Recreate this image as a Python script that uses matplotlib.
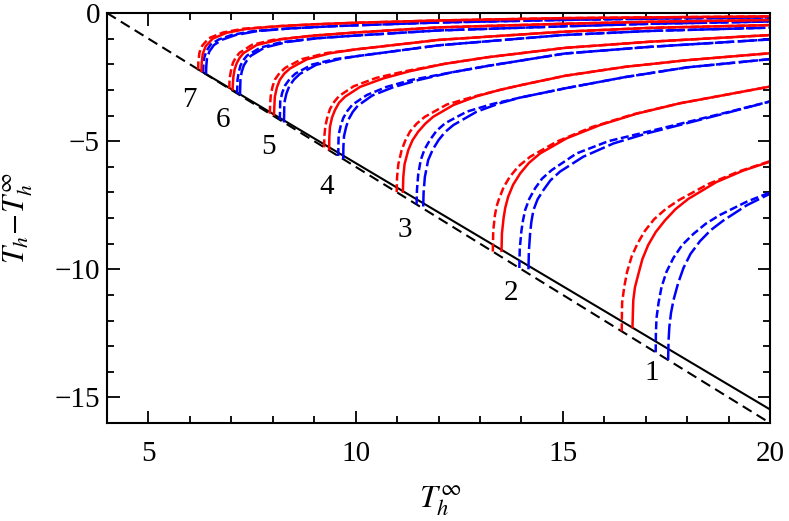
import matplotlib as mpl
mpl.use("Agg")
import matplotlib.pyplot as plt
from matplotlib.ticker import MultipleLocator

plt.rcParams['font.family'] = 'serif'
plt.rcParams['font.serif'] = ['Liberation Serif', 'DejaVu Serif']
plt.rcParams['mathtext.fontset'] = 'stix'

# black reference lines (x, y)
line_dashed = [(4.0, 0.0), (20.0, -16.0)]
line_solid = [(6.2, -2.2), (20.0, -15.47)]

# curves: red solid, red dashed, blue short dash, blue long dash
g1_red = [(16.68, -12.26), (16.69, -11.7), (16.70, -11.2), (16.74, -10.7), (16.82, -10.2), (16.92, -9.6),
          (17.06, -9.05), (17.24, -8.55), (17.46, -8.1), (17.72, -7.65), (18.03, -7.25), (18.7, -6.6),
          (19.35, -6.15), (20, -5.8)]
g1_red_d = [(16.42, -12.42), (16.425, -11.8), (16.43, -11.3), (16.48, -10.7), (16.55, -10.1), (16.66, -9.5),
            (16.8, -9.0), (16.98, -8.5), (17.2, -8.05), (17.48, -7.65), (17.8, -7.3), (18.5, -6.68),
            (19.25, -6.18), (20, -5.78)]
g1_blue_s = [(17.24, -13.24), (17.245, -12.5), (17.26, -11.9), (17.31, -11.3), (17.38, -10.7), (17.5, -10.1),
             (17.67, -9.55), (17.88, -9.05), (18.15, -8.62), (18.45, -8.22), (18.79, -7.88), (19.44, -7.36),
             (20, -7.0)]
g1_blue_l = [(17.54, -13.54), (17.55, -12.8), (17.57, -12.24), (17.61, -11.7), (17.67, -11.2), (17.78, -10.55),
             (17.91, -9.95), (18.08, -9.4), (18.31, -8.9), (18.57, -8.47), (18.87, -8.1), (19.44, -7.5),
             (20, -7.05)]

g2_red = [(13.52, -9.28), (13.53, -8.6), (13.57, -8.0), (13.61, -7.6), (13.68, -7.17), (13.8, -6.7),
          (13.97, -6.26), (14.18, -5.85), (14.45, -5.48), (15.09, -4.89), (15.9, -4.37), (16.78, -3.93),
          (17.83, -3.52), (19.0, -3.17), (20, -2.87)]
g2_red_d = [(13.31, -9.31), (13.32, -8.5), (13.36, -7.9), (13.4, -7.55), (13.46, -7.25), (13.57, -6.8),
            (13.72, -6.39), (13.93, -5.98), (14.21, -5.61), (14.85, -5.02), (15.7, -4.45), (16.7, -3.95),
            (17.83, -3.52), (19.0, -3.17), (20, -2.87)]
g2_blue_s = [(13.95, -9.95), (13.96, -9.2), (14.0, -8.5), (14.04, -8.08), (14.09, -7.69), (14.19, -7.25),
             (14.33, -6.84), (14.5, -6.46), (14.73, -6.13), (15.33, -5.48), (16.1, -5.0), (17.02, -4.64),
             (17.99, -4.26), (18.95, -3.88), (20, -3.45)]
g2_blue_l = [(14.17, -10.0), (14.18, -9.3), (14.21, -8.6), (14.24, -8.15), (14.29, -7.69), (14.39, -7.27),
             (14.53, -6.91), (14.7, -6.53), (14.93, -6.19), (15.49, -5.61), (16.22, -5.09), (17.02, -4.7),
             (17.99, -4.3), (18.95, -3.9), (20, -3.45)]

g3_red = [(11.14, -6.97), (11.15, -6.4), (11.18, -5.9), (11.27, -5.35), (11.37, -4.97), (11.51, -4.63),
          (11.68, -4.32), (11.87, -4.05), (12.36, -3.59), (12.92, -3.25), (13.48, -3.0), (13.97, -2.82),
          (15.05, -2.45), (16.5, -2.1), (18, -1.84), (20, -1.57)]
g3_red_d = [(10.99, -6.99), (11.0, -6.4), (11.03, -5.9), (11.11, -5.35), (11.2, -4.97), (11.31, -4.63),
            (11.47, -4.32), (11.67, -4.05), (12.2, -3.57), (12.85, -3.26), (13.48, -3.0), (13.97, -2.82),
            (15.05, -2.45), (16.5, -2.1), (18, -1.84), (20, -1.57)]
g3_blue_s = [(11.47, -7.47), (11.48, -6.9), (11.51, -6.3), (11.57, -5.74), (11.66, -5.33), (11.79, -4.96),
             (11.95, -4.6), (12.16, -4.3), (12.68, -3.85), (13.3, -3.55), (13.97, -3.3), (15.05, -2.94),
             (16.5, -2.5), (18, -2.12), (20, -1.8)]
g3_blue_l = [(11.63, -7.55), (11.64, -7.0), (11.67, -6.4), (11.75, -5.74), (11.86, -5.33), (12.0, -4.96),
             (12.16, -4.64), (12.36, -4.37), (12.92, -3.85), (13.48, -3.52), (13.97, -3.3), (15.05, -2.94),
             (16.5, -2.5), (18, -2.12), (20, -1.8)]

g4_red = [(9.36, -5.32), (9.365, -4.85), (9.38, -4.44), (9.43, -4.08), (9.5, -3.79), (9.6, -3.5),
          (9.74, -3.27), (10.11, -2.88), (10.67, -2.55), (11.31, -2.27), (12.12, -1.99), (13.16, -1.73),
          (15.05, -1.36), (17.1, -1.12), (20, -0.86)]
g4_red_d = [(9.24, -5.24), (9.245, -4.8), (9.27, -4.4), (9.32, -4.05), (9.38, -3.75), (9.48, -3.47),
            (9.6, -3.24), (9.95, -2.86), (10.5, -2.53), (11.2, -2.27), (12.12, -1.99), (13.16, -1.73),
            (15.05, -1.36), (17.1, -1.12), (20, -0.86)]
g4_blue_s = [(9.58, -5.58), (9.585, -5.1), (9.59, -4.75), (9.64, -4.4), (9.7, -4.1), (9.8, -3.82),
             (9.92, -3.58), (10.27, -3.2), (10.75, -2.88), (11.35, -2.61), (12.3, -2.32), (13.2, -2.06),
             (15.05, -1.58), (17.1, -1.32), (20, -1.03)]
g4_blue_l = [(9.70, -5.70), (9.705, -5.2), (9.72, -4.8), (9.77, -4.45), (9.83, -4.15), (9.93, -3.86),
             (10.05, -3.62), (10.4, -3.22), (10.9, -2.9), (11.5, -2.62), (12.3, -2.32), (13.2, -2.06),
             (15.05, -1.58), (17.1, -1.32), (20, -1.03)]

g5_red = [(8.03, -3.96), (8.04, -3.6), (8.05, -3.27), (8.1, -2.9), (8.17, -2.61), (8.28, -2.36),
          (8.42, -2.16), (8.82, -1.81), (9.38, -1.57), (10, -1.42), (12, -1.05), (15, -0.73),
          (17.1, -0.58), (20, -0.47)]
g5_red_d = [(7.93, -3.93), (7.935, -3.6), (7.95, -3.25), (7.99, -2.9), (8.05, -2.6), (8.16, -2.35),
            (8.3, -2.14), (8.7, -1.8), (9.3, -1.56), (10, -1.42), (12, -1.05), (15, -0.73),
            (17.1, -0.58), (20, -0.47)]
g5_blue_s = [(8.17, -4.17), (8.175, -3.8), (8.18, -3.45), (8.23, -3.1), (8.3, -2.82), (8.41, -2.57),
             (8.55, -2.36), (8.95, -2.01), (9.5, -1.8), (10, -1.69), (12, -1.26), (15, -0.86),
             (17.1, -0.70), (20, -0.57)]
g5_blue_l = [(8.27, -4.27), (8.275, -3.9), (8.28, -3.5), (8.33, -3.14), (8.4, -2.85), (8.51, -2.6),
             (8.65, -2.38), (9.05, -2.02), (9.6, -1.8), (10, -1.69), (12, -1.26), (15, -0.86),
             (17.1, -0.70), (20, -0.57)]

g6_red = [(7.03, -2.98), (7.04, -2.7), (7.05, -2.49), (7.08, -2.2), (7.13, -1.96), (7.2, -1.75),
          (7.29, -1.57), (7.61, -1.25), (8.17, -1.03), (8.98, -0.88), (10, -0.76), (12, -0.56),
          (15, -0.42), (17.1, -0.34), (20, -0.27)]
g6_red_d = [(6.95, -2.95), (6.955, -2.7), (6.97, -2.45), (7.0, -2.18), (7.04, -1.94), (7.11, -1.73),
            (7.2, -1.55), (7.5, -1.24), (8.0, -1.05), (8.98, -0.88), (10, -0.76), (12, -0.56),
            (15, -0.42), (17.1, -0.34), (20, -0.27)]
g6_blue_s = [(7.14, -3.14), (7.145, -2.85), (7.15, -2.6), (7.18, -2.3), (7.22, -2.05), (7.29, -1.84),
             (7.38, -1.66), (7.7, -1.35), (8.2, -1.14), (9.0, -0.99), (10, -0.88), (12, -0.68),
             (15, -0.52), (17.1, -0.42), (20, -0.33)]
g6_blue_l = [(7.21, -3.21), (7.215, -2.9), (7.22, -2.6), (7.25, -2.3), (7.3, -2.05), (7.38, -1.84),
             (7.47, -1.67), (7.8, -1.35), (8.35, -1.13), (9.1, -0.98), (10, -0.88), (12, -0.68),
             (15, -0.52), (17.1, -0.42), (20, -0.33)]

g7_red = [(6.28, -2.26), (6.285, -1.95), (6.31, -1.6), (6.38, -1.3), (6.55, -1.0), (6.89, -0.77),
          (7.37, -0.62), (8.17, -0.51), (9.0, -0.44), (10, -0.38), (12, -0.29), (15, -0.2), (17.1, -0.17), (20, -0.13)]
g7_red_d = [(6.20, -2.2), (6.205, -1.9), (6.23, -1.55), (6.3, -1.27), (6.46, -0.98), (6.8, -0.76),
            (7.3, -0.61), (8.17, -0.51), (9.0, -0.44), (10, -0.38), (12, -0.29), (15, -0.2), (17.1, -0.17), (20, -0.13)]
g7_blue_s = [(6.32, -2.32), (6.325, -2.05), (6.34, -1.78), (6.4, -1.48), (6.5, -1.23), (6.7, -1.03),
             (7.02, -0.85), (7.55, -0.7), (8.42, -0.6), (9.38, -0.52), (10, -0.48), (12, -0.37), (15, -0.27),
             (17.1, -0.22), (20, -0.17)]
g7_blue_l = [(6.39, -2.39), (6.395, -2.1), (6.41, -1.8), (6.47, -1.5), (6.58, -1.25), (6.78, -1.04),
             (7.1, -0.86), (7.61, -0.71), (8.42, -0.6), (9.38, -0.52), (10, -0.48), (12, -0.37), (15, -0.27),
             (17.1, -0.22), (20, -0.17)]

groups = [
    (g1_red, g1_red_d, g1_blue_s, g1_blue_l),
    (g2_red, g2_red_d, g2_blue_s, g2_blue_l),
    (g3_red, g3_red_d, g3_blue_s, g3_blue_l),
    (g4_red, g4_red_d, g4_blue_s, g4_blue_l),
    (g5_red, g5_red_d, g5_blue_s, g5_blue_l),
    (g6_red, g6_red_d, g6_blue_s, g6_blue_l),
    (g7_red, g7_red_d, g7_blue_s, g7_blue_l),
]

# curve numbers and where they sit
label_text = ['1', '2', '3', '4', '5', '6', '7']
label_x = [17.14, 13.74, 11.19, 9.30, 7.89, 6.81, 6.00]
label_y = [-14.06, -10.94, -8.47, -6.78, -5.22, -4.18, -3.40]

fig = plt.figure(figsize=(7.89, 5.21), dpi=100)
ax = fig.add_axes([0.1356, 0.188, 0.8404, 0.787])

lw = 1.8
ax.plot(*zip(*line_dashed), color='black', lw=1.5, dashes=(5, 2.8))
ax.plot(*zip(*line_solid), color='black', lw=1.5)

for red, red_d, blue_s, blue_l in groups:
    ax.plot(*zip(*blue_l), color='#0000ff', lw=lw, dashes=(6.5, 1.6))
    ax.plot(*zip(*blue_s), color='#0000ff', lw=lw, dashes=(3.2, 1.4))
    ax.plot(*zip(*red), color='#ff0000', lw=lw)
    ax.plot(*zip(*red_d), color='#ff0000', lw=lw, dashes=(3.2, 1.4))

for t, x, y in zip(label_text, label_x, label_y):
    ax.text(x, y, t, fontsize=21, ha='center', va='center')

ax.set_xlim(4, 20)
ax.set_ylim(-16, 0)
ax.xaxis.set_major_locator(MultipleLocator(5))
ax.xaxis.set_minor_locator(MultipleLocator(1))
ax.yaxis.set_major_locator(MultipleLocator(5))
ax.yaxis.set_minor_locator(MultipleLocator(1))
ax.tick_params(which='both', direction='in', top=True, right=True, labelsize=21, width=1.3)
ax.tick_params(which='major', length=9)
ax.tick_params(which='minor', length=5)
ax.tick_params(axis='x', pad=13)
ax.tick_params(axis='y', pad=5)
for s in ax.spines.values():
    s.set_linewidth(1.5)

ax.set_xlabel(r'$T_h^{\infty}$', fontsize=23)
ax.set_ylabel(r'$T_h\!-\!T_h^{\infty}$', fontsize=22)
ax.xaxis.set_label_coords(0.502, -0.15)
ax.yaxis.set_label_coords(-0.108, 0.5)

plt.savefig('out.png', dpi=100)
